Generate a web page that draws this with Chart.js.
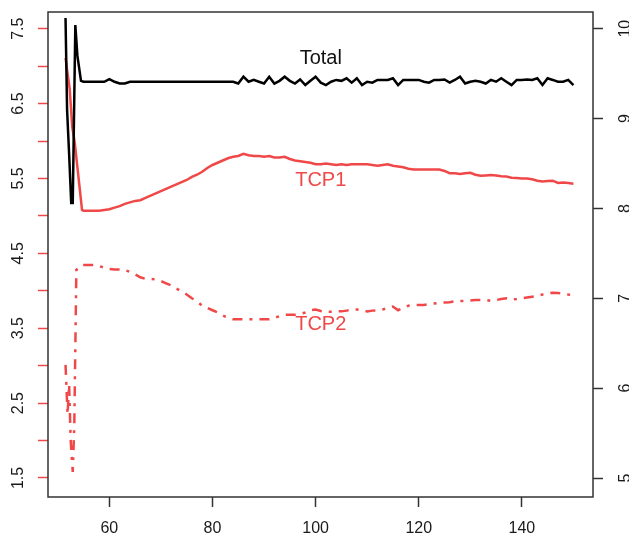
<!DOCTYPE html>
<html><head><meta charset="utf-8">
<script src="https://cdn.jsdelivr.net/npm/chart.js@4"></script>
<style>html,body{margin:0;padding:0;background:#fff;overflow:hidden}</style>
</head><body>
<canvas id="c" width="629" height="536"></canvas>
<script>
// ---- data ----
const earlyX   = [51.5, 51.8, 52.2, 52.6, 52.9, 53.4, 53.8, 54.5];
const totalEarly = [10.12, 9.10, 8.60, 8.06, 8.06, 10.04, 9.70, 9.42];
const tcp1EarlyX = [51.5, 51.8, 52.3, 52.8, 53.3, 54.7];
const tcp1Early  = [7.11, 6.95, 6.70, 6.19, 5.97, 5.08];
const tcp2EarlyX = [51.5, 51.9, 52.2, 52.5, 52.9, 53.2, 53.6, 54.7];
const tcp2Early  = [3.01, 2.35, 2.75, 2.00, 1.58, 2.20, 4.28, 4.345];

const days = []; for (let d = 55; d <= 150; d++) days.push(d);

const totalVals = [
 9.41,9.41,9.41,9.41,9.41, 9.44,9.41,9.39,9.39,9.41, // 55-64
 9.41,9.41,9.41,9.41,9.41, 9.41,9.41,9.41,9.41,9.41, // 65-74
 9.41,9.41,9.41,9.41,9.41, 9.41,9.41,9.41,9.41,9.41, // 75-84
 9.39,9.466,9.41,9.43,9.41, 9.39,9.466,9.39,9.42,9.466, // 85-94
 9.42,9.39,9.435,9.373,9.42, 9.466,9.40,9.373,9.41,9.43, // 95-104
 9.42,9.448,9.40,9.448,9.373, 9.41,9.40,9.43,9.43,9.43, // 105-114
 9.448,9.373,9.43,9.43,9.43, 9.43,9.41,9.40,9.43,9.43, // 115-124
 9.435,9.40,9.43,9.466,9.39, 9.41,9.42,9.41,9.39,9.43, // 125-134
 9.41,9.448,9.41,9.373,9.43, 9.43,9.435,9.43,9.448,9.373, // 135-144
 9.448,9.43,9.41,9.41,9.43, 9.373 // 145-150
];
const tcp1Vals = [
 5.07,5.07,5.07,5.07,5.08, 5.09,5.11,5.13,5.16,5.18, // 55-64
 5.20,5.21,5.24,5.27,5.30, 5.33,5.36,5.39,5.42,5.45, // 65-74
 5.48,5.52,5.55,5.59,5.64, 5.68,5.71,5.74,5.77,5.79, // 75-84
 5.80,5.83,5.81,5.80,5.80, 5.79,5.80,5.78,5.78,5.79, // 85-94
 5.76,5.74,5.73,5.72,5.71, 5.69,5.69,5.70,5.69,5.68, // 95-104
 5.69,5.68,5.69,5.69,5.69, 5.69,5.68,5.67,5.68,5.69, // 105-114
 5.67,5.66,5.65,5.63,5.62, 5.62,5.62,5.62,5.62,5.62, // 115-124
 5.60,5.57,5.57,5.56,5.57, 5.575,5.55,5.535,5.54,5.545, // 125-134
 5.54,5.53,5.525,5.51,5.505, 5.50,5.50,5.49,5.47,5.46, // 135-144
 5.465,5.47,5.44,5.445,5.44, 5.43 // 145-150
];
const tcp2Vals = [
 4.345,4.345,4.345,4.33,4.31, 4.29,4.285,4.285,4.28,4.25, // 55-64
 4.22,4.18,4.16,4.16,4.15, 4.13,4.10,4.07,4.03,3.99, // 65-74
 3.95,3.90,3.86,3.80,3.77, 3.74,3.71,3.67,3.64,3.62, // 75-84
 3.62,3.62,3.62,3.62,3.62, 3.62,3.62,3.64,3.66,3.68, // 85-94
 3.68,3.68,3.69,3.71,3.74, 3.75,3.73,3.72,3.72,3.725, // 95-104
 3.725,3.735,3.745,3.75,3.74, 3.725,3.735,3.74,3.75,3.77, // 105-114
 3.79,3.74,3.77,3.80,3.81, 3.81,3.81,3.82,3.83,3.84, // 115-124
 3.845,3.847,3.86,3.864,3.864, 3.87,3.878,3.878,3.878,3.865, // 125-134
 3.875,3.89,3.90,3.885,3.89, 3.90,3.91,3.92,3.93,3.95, // 135-144
 3.965,3.975,3.97,3.96,3.95, 3.945 // 145-150
];

const seriesLabels = ['Total', 'TCP1', 'TCP2'];
const labelPos = [ {x:101, y:9.674, axis:'y2'}, {x:101, y:5.467, axis:'y'}, {x:101, y:3.544, axis:'y'} ];

const RED = '#F04848';
const FONT = '"Liberation Sans", Arial, Helvetica, sans-serif';

function pts(xs, ys){ return xs.map((x,i)=>({x, y: ys[i]})); }
function noPad(s){ s.paddingTop = 0; s.paddingBottom = 0; s.paddingLeft = 0; s.paddingRight = 0; }

const boxPlugin = {
  id: 'box',
  afterDraw(chart){
    const {ctx, chartArea: a} = chart;
    ctx.save();
    ctx.strokeStyle = '#333'; ctx.lineWidth = 1.5;
    ctx.strokeRect(a.left, a.top, a.right - a.left, a.bottom - a.top);
    ctx.restore();
  }
};
const textPlugin = {
  id: 'seriesText',
  afterDatasetsDraw(chart){
    const ctx = chart.ctx;
    ctx.save();
    ctx.font = '20px ' + FONT;
    ctx.textAlign = 'center'; ctx.textBaseline = 'middle';
    seriesLabels.forEach((t, i) => {
      const p = labelPos[i];
      ctx.fillStyle = i === 0 ? '#111' : RED;
      ctx.fillText(t, chart.scales.x.getPixelForValue(p.x), chart.scales[p.axis].getPixelForValue(p.y));
    });
    ctx.restore();
  }
};

new Chart(document.getElementById('c'), {
  type: 'line',
  data: {
    datasets: [
      { label: 'Total', yAxisID: 'y2', data: pts(earlyX.concat(days), totalEarly.concat(totalVals)),
        borderColor: '#000', borderWidth: 2.5, pointRadius: 0, tension: 0, fill: false },
      { label: 'TCP1', yAxisID: 'y', data: pts(tcp1EarlyX.concat(days), tcp1Early.concat(tcp1Vals)),
        borderColor: RED, borderWidth: 2.5, pointRadius: 0, tension: 0, fill: false },
      { label: 'TCP2', yAxisID: 'y', data: pts(tcp2EarlyX.concat(days), tcp2Early.concat(tcp2Vals)),
        borderColor: RED, borderWidth: 2.5, borderDash: [10, 7, 3, 7], pointRadius: 0, tension: 0, fill: false }
    ]
  },
  options: {
    responsive: false, animation: false, devicePixelRatio: 1,
    layout: { padding: { top: 12, left: 0, right: 0, bottom: 0 } },
    plugins: { legend: { display: false }, tooltip: { enabled: false } },
    scales: {
      x: {
        type: 'linear', min: 48.1, max: 153.8,
        afterFit(s){ s.height = 39; noPad(s); },
        border: { display: false },
        grid: { drawOnChartArea: false, drawTicks: true, tickLength: 10, tickColor: '#333', tickWidth: 1.5 },
        ticks: { stepSize: 20, includeBounds: false, autoSkip: false, maxRotation: 0, padding: 12,
                 color: '#1a1a1a', font: { size: 16, family: FONT } }
      },
      y: {
        type: 'linear', position: 'left', min: 1.246, max: 7.723,
        afterFit(s){ s.width = 48; noPad(s); },
        border: { display: false },
        grid: { drawOnChartArea: false, drawTicks: true, tickLength: 10, tickColor: RED, tickWidth: 1.5 },
        ticks: { stepSize: 0.5, includeBounds: false, autoSkip: false, minRotation: 90, maxRotation: 90,
                 crossAlign: 'center', padding: 8, color: '#1a1a1a', font: { size: 16, family: FONT },
                 callback: v => (Math.abs((v - 1.5) % 1) < 1e-6 ? v.toFixed(1) : '') }
      },
      y2: {
        type: 'linear', position: 'right', min: 4.789, max: 10.186,
        afterFit(s){ s.width = 36; noPad(s); },
        border: { display: false },
        grid: { drawOnChartArea: false, drawTicks: true, tickLength: 10, tickColor: '#333', tickWidth: 1.5 },
        ticks: { stepSize: 1, includeBounds: false, autoSkip: false, minRotation: 90, maxRotation: 90,
                 crossAlign: 'center', padding: 14, color: '#1a1a1a', font: { size: 16, family: FONT },
                 callback: v => String(v) }
      }
    }
  },
  plugins: [boxPlugin, textPlugin]
});
</script>
</body></html>
